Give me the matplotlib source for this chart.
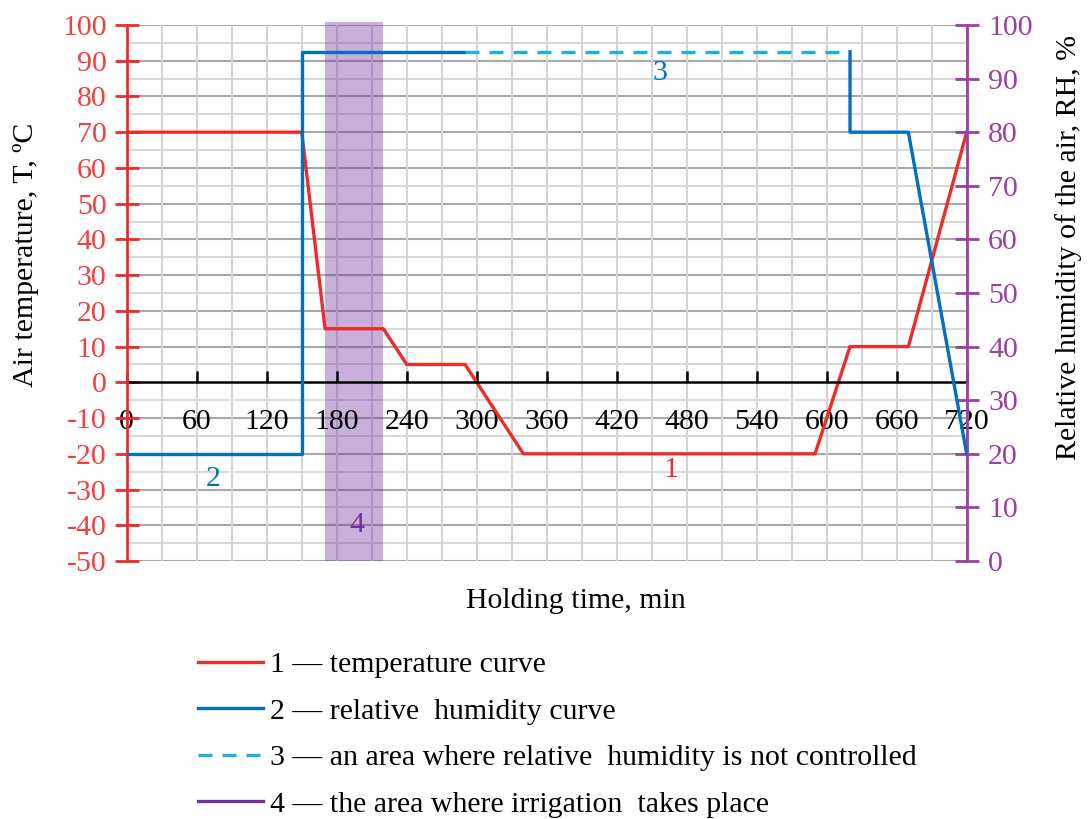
import numpy as np
import matplotlib
matplotlib.use('Agg')
import matplotlib.pyplot as plt
from matplotlib.lines import Line2D

plt.rcParams['font.family'] = ['Liberation Serif', 'DejaVu Serif']
plt.rcParams['axes.unicode_minus'] = False

# temperature curve, deg C
t_time = [0, 150, 170, 220, 240, 290, 340, 590, 620, 670, 720]
t_val = [70, 70, 15, 15, 5, 5, -20, -20, 10, 10, 70]

# relative humidity curve, %
rh_time_a = [0, 150, 150, 290]
rh_val_a = [20, 20, 95, 95]
rh_time_free = [290, 620]
rh_val_free = [95, 95]
rh_time_b = [620, 620, 670, 720]
rh_val_b = [95, 80, 80, 20]

# irrigation band, min
irr_start, irr_end = 170, 220

x_ticks = list(range(0, 721, 60))
legend_labels = ['1 \u2014 temperature curve',
                 '2 \u2014 relative  humidity curve',
                 '3 \u2014 an area where relative  humidity is not controlled',
                 '4 \u2014 the area where irrigation  takes place']

c_red = '#EE2B2B'
c_red_txt = '#F04040'
c_blue = '#0070C0'
c_lblue = '#1FAEE6'
c_purple = '#7030A0'
c_raxis = '#9B3FA0'

fs = 21.5

fig = plt.figure(figsize=(10.88, 8.19), dpi=100)
ax = fig.add_axes([0.1165, 0.315, 0.772, 0.6545])
ax2 = ax.twinx()

ax.set_xlim(0, 720)
ax.set_ylim(-50, 100)
ax2.set_ylim(0, 100)

# grid
for y in range(-50, 101, 5):
    if y == 0:
        continue
    ax.axhline(y, color='#A8A8A8' if y % 10 == 0 else '#D8D8D8', lw=1.5, zorder=0)
for x in range(30, 721, 30):
    ax.axvline(x, color='#D4D4D4', lw=1.5, zorder=0)

ax.axvspan(irr_start, irr_end, ymin=0, ymax=1.005, color=c_purple, alpha=0.38,
           lw=0, zorder=1, clip_on=False)

ax.plot(t_time, t_val, color=c_red, lw=2.4, zorder=4)
ax2.plot(rh_time_a, rh_val_a, color=c_blue, lw=2.4, zorder=3)
ax2.plot(rh_time_free, rh_val_free, color=c_lblue, lw=2.4, dashes=(4.2, 3), zorder=3)
ax2.plot(rh_time_b, rh_val_b, color=c_blue, lw=2.4, zorder=3)

# spines
ax.spines['top'].set_visible(False)
ax.spines['right'].set_visible(False)
ax2.spines['top'].set_visible(False)
ax2.spines['left'].set_visible(False)
ax2.spines['bottom'].set_visible(False)
ax.spines['bottom'].set_position(('data', 0))
ax.spines['bottom'].set_color('black')
ax.spines['bottom'].set_linewidth(1.8)
ax.spines['bottom'].set_zorder(5)
ax.spines['left'].set_color(c_red)
ax.spines['left'].set_linewidth(2)
ax.spines['left'].set_zorder(6)
ax2.spines['right'].set_color(c_raxis)
ax2.spines['right'].set_linewidth(2)

ax.set_xticks(x_ticks)
ax.tick_params(axis='x', direction='in', length=8, width=1.8, color='black',
               pad=19, labelsize=fs, labelcolor='black')
ax.set_yticks(range(-50, 101, 10))
ax.tick_params(axis='y', direction='inout', length=17, width=2, color=c_red,
               pad=6, labelsize=fs, labelcolor=c_red_txt)
ax2.set_yticks(range(0, 101, 10))
ax2.tick_params(axis='y', direction='inout', length=17, width=2, color=c_raxis,
                pad=7, labelsize=fs, labelcolor=c_raxis)

# axis titles
fig.text(0.024, 1 - 255 / 819, 'Air temperature, T, \u00baC', fontsize=fs,
         rotation=90, ha='center', va='center')
fig.text(0.982, 1 - 247 / 819, 'Relative humidity of the air, RH, %', fontsize=fs,
         rotation=90, ha='center', va='center')
fig.text(0.529, 1 - 601 / 819, 'Holding time, min', fontsize=fs, ha='center', va='center')

# curve labels
ax.text(466, -24.5, '1', color=c_red, fontsize=fs, ha='center', va='center')
ax.text(74, -27, '2', color=c_blue, fontsize=fs, ha='center', va='center')
ax.text(457, 86.5, '3', color=c_blue, fontsize=fs, ha='center', va='center')
ax.text(197, -40, '4', color=c_purple, fontsize=fs, ha='center', va='center')

handles = [Line2D([], [], color=c_red, lw=2.4),
           Line2D([], [], color=c_blue, lw=2.4),
           Line2D([], [], color=c_lblue, lw=2.4, dashes=(4.2, 3)),
           Line2D([], [], color=c_purple, lw=2.4)]
fig.legend(handles, legend_labels, loc='upper left', bbox_to_anchor=(0.182, 0.205),
           frameon=False, fontsize=fs, handlelength=2.17, handletextpad=0.23,
           labelspacing=0.66, borderpad=0, borderaxespad=0)

fig.savefig('out.png', dpi=100)
